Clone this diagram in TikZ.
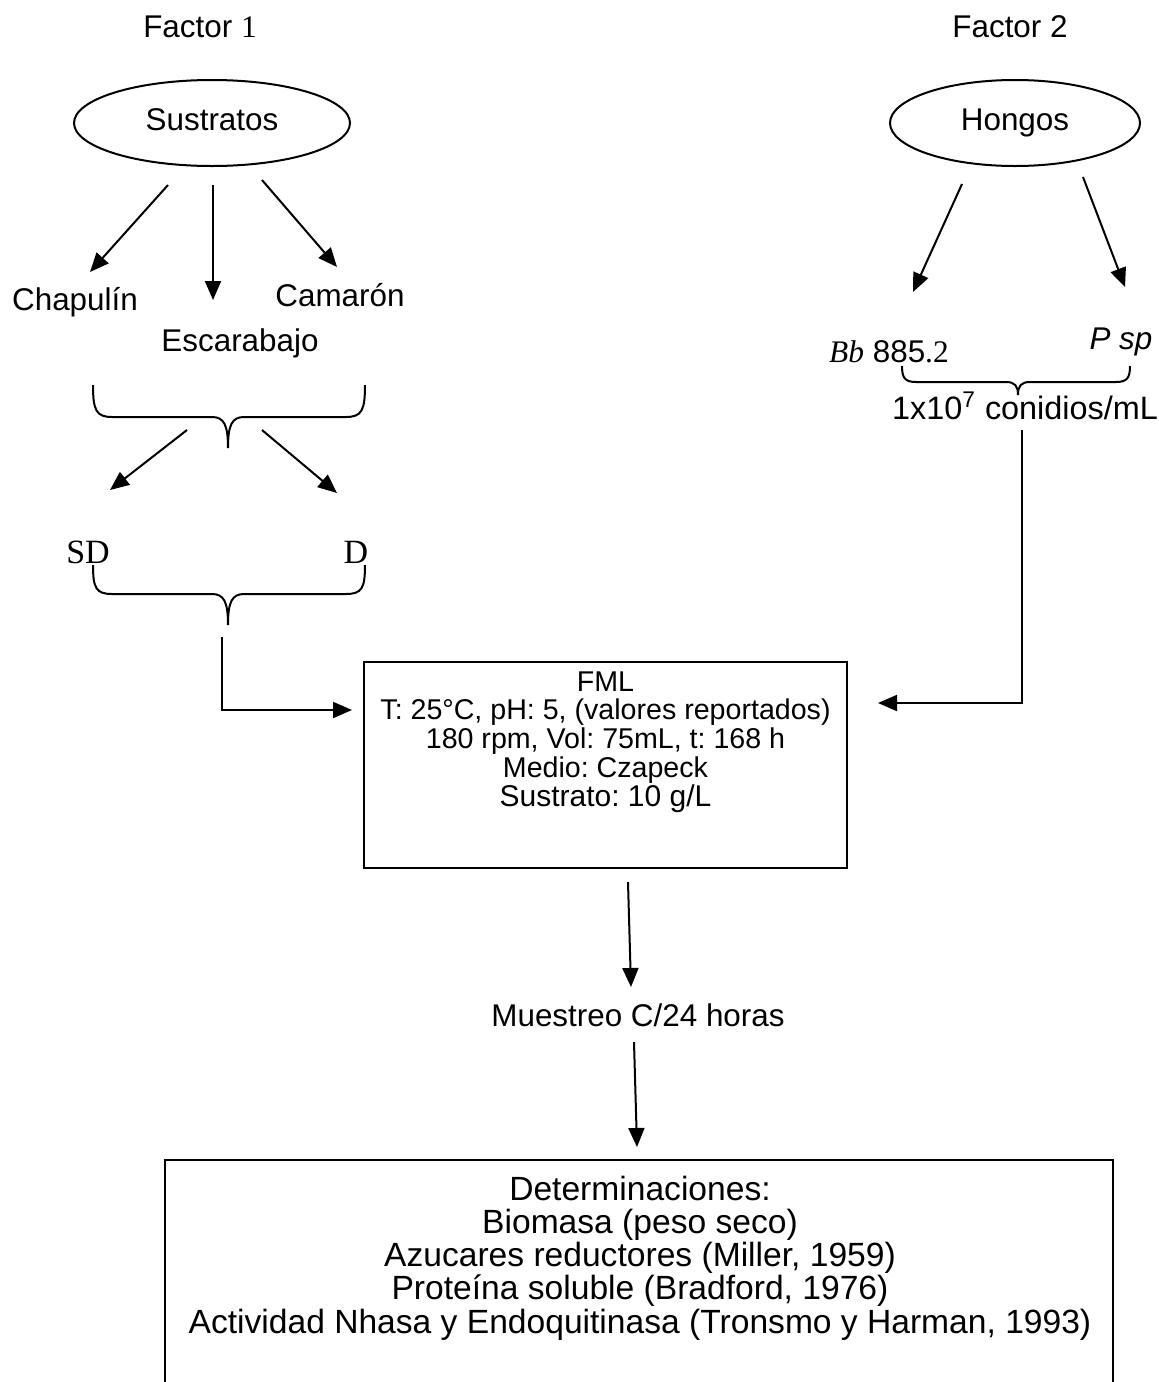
\documentclass[tikz,border=0pt]{standalone}
\usepackage{fontspec}
\setmainfont{Liberation Sans}
\newfontfamily\rmserif{Liberation Serif}
\usetikzlibrary{arrows.meta,shapes.geometric}
\frenchspacing
\begin{document}
\begin{tikzpicture}[x=0.5pt,y=-0.5pt,line width=1pt,
  arr/.style={-{Triangle[length=9.5pt,width=8pt]}},
  lbl/.style={inner sep=0pt,font=\fontsize{15.7}{18}\selectfont},
  serlbl/.style={inner sep=0pt,font=\rmserif\fontsize{17}{19}\selectfont},
  boxtxt/.style={inner sep=0pt,align=center,font=\fontsize{14.3}{14.4}\selectfont},
  dettxt/.style={inner sep=0pt,align=center,font=\fontsize{16.8}{16.6}\selectfont},
  oval/.style={ellipse,draw,inner sep=0pt,text height=0.72em,text depth=0pt,font=\fontsize{15.7}{18}\selectfont}]
\useasboundingbox (0,0) rectangle (1159,1382);
\clip (0,0) rectangle (1159,1382);
% headers
\node[lbl] (f1) at (200,27) {Factor {\rmserif 1}};
\node[lbl] (f2) at (1010,27) {Factor 2};
% ovals
\node[oval,minimum width=138pt,minimum height=43pt] (sus) at (212,123) {Sustratos};
\node[oval,minimum width=125pt,minimum height=43pt] (hon) at (1015,123) {Hongos};
% substrate labels
\node[lbl] (chap) at (75,302) {Chapulín};
\node[lbl] (cam) at (340,295) {Camarón};
\node[lbl] (esc) at (240,343) {Escarabajo};
\coordinate (s1) at (168,185); \coordinate (t1) at (90,272);
\coordinate (s2) at (213,185); \coordinate (t2) at (213,300);
\coordinate (s3) at (262,180); \coordinate (t3) at (337,267);
\draw[arr] (s1) -- (t1);
\draw[arr] (s2) -- (t2);
\draw[arr] (s3) -- (t3);
% brace 1
\draw (93,385) .. controls (93,410) and (96,417) .. (112,417) -- (212,417)
  .. controls (224,417) and (228,425) .. (228,448)
  .. controls (228,425) and (232,417) .. (244,417) -- (346,417)
  .. controls (362,417) and (365,410) .. (365,385);
\coordinate (s4) at (187,430); \coordinate (t4) at (110,490);
\coordinate (s5) at (262,430); \coordinate (t5) at (337,493);
\draw[arr] (s4) -- (t4);
\draw[arr] (s5) -- (t5);
\node[serlbl] (sd) at (88,552) {SD};
\node[serlbl] (dd) at (356,552) {D};
% brace 2
\draw (93,565) .. controls (93,588) and (96,594) .. (112,594) -- (212,594)
  .. controls (224,594) and (228,602) .. (228,625)
  .. controls (228,602) and (232,594) .. (244,594) -- (346,594)
  .. controls (362,594) and (365,588) .. (365,565);
% FML box
\node[draw,minimum width=241.5pt,minimum height=103pt,inner sep=0pt] (fml) at (605.5,765) {};
\node[boxtxt] (fmltxt) at (605.5,742) {FML\\T: 25°C, pH: 5, (valores reportados)\\180 rpm, Vol: 75mL, t: 168 h\\Medio: Czapeck\\{\fontsize{15}{14.4}\selectfont Sustrato: 10 g/L}};
\coordinate (b2a) at (222,637); \coordinate (b2b) at (222,710); \coordinate (b2c) at (352,710);
\draw[arr] (b2a) -- (b2b) -- (b2c);
% fungi
\coordinate (s6) at (962,184); \coordinate (t6) at (913,292);
\coordinate (s7) at (1083,177); \coordinate (t7) at (1125,287);
\draw[arr] (s6) -- (t6);
\draw[arr] (s7) -- (t7);
\node[lbl] (bb) at (889,352) {{\rmserif\itshape Bb} 885{\rmserif .2}};
\node[lbl] (psp) at (1121,342) {\itshape P sp};
% brace 3
\draw (902,366) .. controls (902,378) and (905,382) .. (916,382) -- (1006,382)
  .. controls (1015,382) and (1018,386) .. (1018,395)
  .. controls (1018,386) and (1021,382) .. (1030,382) -- (1116,382)
  .. controls (1127,382) and (1130,378) .. (1130,366);
\node[lbl,font=\fontsize{16.2}{18}\selectfont] (con) at (1025,406) {1x10\textsuperscript{7} conidios/mL};
\coordinate (c1) at (1022,430); \coordinate (c2) at (1022,703); \coordinate (c3) at (878,703);
\draw[arr] (c1) -- (c2) -- (c3);
% down arrows
\coordinate (d1) at (628,882); \coordinate (d2) at (631,987);
\draw[arr] (d1) -- (d2);
\node[lbl] (mue) at (638,1015) {Muestreo C/24 horas};
\coordinate (d3) at (634,1042); \coordinate (d4) at (637,1147);
\draw[arr] (d3) -- (d4);
% determinaciones
\node[draw,minimum width=474pt,minimum height=130pt,inner sep=0pt] (det) at (639,1290) {};
\node[dettxt] (dettx) at (640,1258) {Determinaciones:\\Biomasa (peso seco)\\Azucares reductores (Miller, 1959)\\Proteína soluble (Bradford, 1976)\\Actividad Nhasa y Endoquitinasa (Tronsmo y Harman, 1993)};
\end{tikzpicture}
\end{document}
